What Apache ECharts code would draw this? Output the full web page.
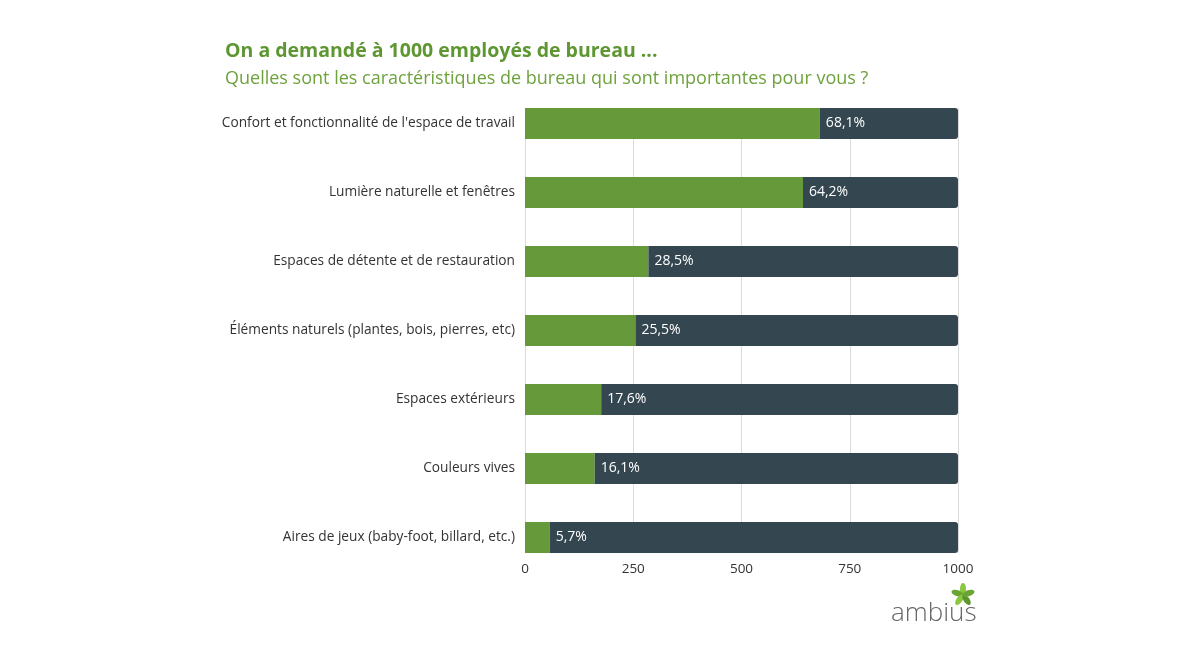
<!DOCTYPE html>
<html>
<head>
<meta charset="utf-8">
<script src="https://cdn.jsdelivr.net/npm/echarts@6/dist/echarts.min.js"></script>
<style>
  html, body { margin: 0; padding: 0; background: #fff; }
  #chart { width: 1200px; height: 650px; }
</style>
</head>
<body>
<div id="chart"></div>
<script>
  // catégories (de haut en bas)
  const categories = [
    'Confort et fonctionnalité de l\'espace de travail',
    'Lumière naturelle et fenêtres',
    'Espaces de détente et de restauration',
    'Éléments naturels (plantes, bois, pierres, etc)',
    'Espaces extérieurs',
    'Couleurs vives',
    'Aires de jeux (baby-foot, billard, etc.)'
  ];
  // nombre d'employés (sur 1000)
  const ouiValues = [681, 642, 285, 255, 176, 161, 57];
  // reste jusqu'à 1000
  const resteValues = [319, 358, 715, 745, 824, 839, 943];
  const pctLabels = ['68,1%', '64,2%', '28,5%', '25,5%', '17,6%', '16,1%', '5,7%'];
  const xTicks = [0, 250, 500, 750, 1000];

  const FONT = '"Open Sans", Lato, sans-serif';

  let chart = echarts.init(document.getElementById('chart'));

  // petite feuille du logo
  function leaf(cx, cy, angle, color) {
    return {
      type: 'ellipse',
      x: cx, y: cy,
      rotation: angle * Math.PI / 180,
      shape: { cx: 0, cy: -6, rx: 3, ry: 6 },
      style: { fill: color },
      silent: true
    };
  }

  chart.setOption({
    animation: false,
    title: [
      {
        text: 'On a demandé à 1000 employés de bureau ...',
        left: 220, top: 36,
        textStyle: { fontFamily: FONT, fontSize: 19.5, fontWeight: 'bold', color: '#5e9732' }
      },
      {
        text: 'Quelles sont les caractéristiques de bureau qui sont importantes pour vous ?',
        left: 220, top: 65,
        textStyle: { fontFamily: FONT, fontSize: 18, fontWeight: 'normal', color: '#6ea23d' }
      }
    ],
    grid: [
      { left: 525, right: 242, top: 89, height: 483 },
      { left: 525, right: 242, top: 108, height: 445 }
    ],
    xAxis: [
      { type: 'value', gridIndex: 0, min: 0, max: 1000, show: false },
      {
        type: 'value', gridIndex: 1, min: 0, max: 1000, interval: 250,
        axisLine: { show: false },
        axisTick: { show: false },
        splitLine: { show: true, lineStyle: { color: '#dcdcdc', width: 1 } },
        axisLabel: {
          margin: 9, fontFamily: FONT, fontSize: 13.5, color: '#333',
          formatter: v => xTicks.includes(v) ? String(v) : ''
        }
      }
    ],
    yAxis: [
      {
        type: 'category', gridIndex: 0, inverse: true, data: categories,
        axisLine: { show: false },
        axisTick: { show: false },
        axisLabel: { margin: 10, fontFamily: FONT, fontSize: 13.7, color: '#333' }
      },
      { type: 'value', gridIndex: 1, min: 0, max: 1, show: false }
    ],
    series: [
      {
        name: 'oui', type: 'bar', stack: 'total',
        xAxisIndex: 0, yAxisIndex: 0,
        barWidth: 31,
        itemStyle: { color: '#65993a' },
        data: ouiValues,
        z: 3
      },
      {
        name: 'reste', type: 'bar', stack: 'total',
        xAxisIndex: 0, yAxisIndex: 0,
        barWidth: 31,
        itemStyle: { color: '#34464f', borderRadius: [0, 3, 3, 0] },
        label: {
          show: true, position: 'insideLeft', distance: 6,
          fontFamily: FONT, fontSize: 14, color: '#fff',
          formatter: p => pctLabels[p.dataIndex]
        },
        data: resteValues,
        z: 3
      }
    ],
    graphic: [
      {
        type: 'text', left: 891, top: 601, silent: true,
        style: { text: 'ambius', font: '300 26px ' + FONT, fill: '#666' }
      },
      {
        type: 'group', silent: true,
        children: [
          leaf(963, 595, 0, '#8cc63f'),
          leaf(963, 595, 72, '#6aa533'),
          leaf(963, 595, 144, '#8cc63f'),
          leaf(963, 595, 216, '#5c962d'),
          leaf(963, 595, 288, '#6aa533')
        ]
      }
    ]
  });
</script>
</body>
</html>
